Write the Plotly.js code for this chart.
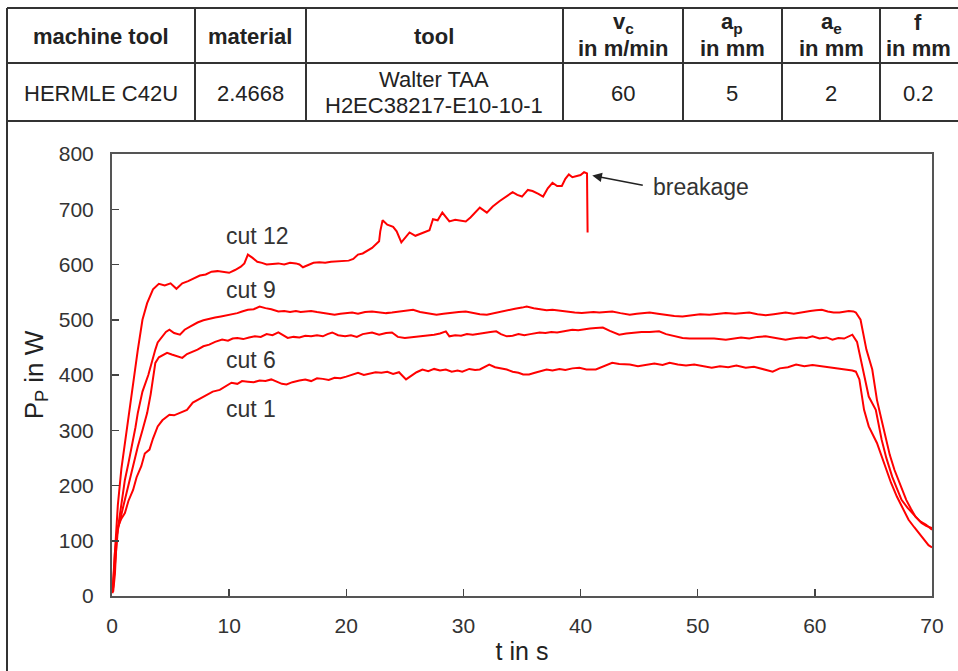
<!DOCTYPE html>
<html>
<head>
<meta charset="utf-8">
<script src="https://cdn.plot.ly/plotly-3.0.1.min.js"></script>
<style>html,body{margin:0;padding:0;background:#fff;}#chart{width:958px;height:671px;}</style>
</head>
<body>
<div id="chart"></div>
<script>
// ---- Table data ----
const tableHeaders = [
  ["machine tool"],
  ["material"],
  ["tool"],
  ["v<sub>c</sub>", "in m/min"],
  ["a<sub>p</sub>", "in mm"],
  ["a<sub>e</sub>", "in mm"],
  ["f", "in mm"]
];
const tableValues = [
  ["HERMLE C42U"],
  ["2.4668"],
  ["Walter TAA", "H2EC38217-E10-10-1"],
  ["60"],
  ["5"],
  ["2"],
  ["0.2"]
];

// ---- Series data (t in s, P_P in W) ----
const cut1_t = [0.05,0.1,0.25,0.5,0.8,1.1,1.4,1.8,2.1,2.5,2.8,3.2,3.5,3.9,4.3,4.9,5.3,5.8,6.4,6.9,7.3,7.8,8.2,8.6,9.2,9.7,10.2,10.7,11.1,11.6,12.1,12.6,13.1,13.6,14.1,14.5,14.9,15.4,16,16.5,17,17.5,18,18.5,19,19.5,20,20.5,21,21.5,22,22.5,23,23.5,24,24.5,25.1,25.6,26,26.5,27,27.5,28,28.5,29,29.5,29.9,30.5,31,31.4,31.8,32.2,32.7,33.2,33.7,34.2,34.7,35.1,35.6,36.1,36.6,37.1,37.6,38.2,38.7,39.3,39.9,40.5,41.3,41.9,42.7,43.3,44.2,44.9,45.6,46.3,47,47.6,48.3,49,49.7,50.4,51.2,51.9,52.6,53.3,54.1,54.8,55.6,56.4,57,57.7,58.4,59.1,59.8,60.5,61.2,61.9,62.6,63.2,63.5,63.8,64.2,64.6,65.3,65.7,66.1,66.5,67,67.5,68,68.5,68.9,69.3,69.7,70];
const cut1_p = [8,16,78,125,140,150,172,192,215,235,258,265,285,307,318,328,327,331,337,350,355,361,366,370,373,380,386,384,389,388,387,390,389,392,388,384,383,387,390,392,389,394,393,391,395,394,397,401,404,400,403,405,404,406,402,405,392,400,405,410,407,411,408,410,406,408,406,411,409,410,414,419,414,412,410,406,404,401,401,404,407,410,408,411,409,412,413,410,410,415,422,420,419,416,419,421,418,422,419,417,419,416,413,416,414,417,413,415,410,406,412,414,419,416,418,416,415,412,410,408,406,392,337,307,277,252,228,205,180,158,138,124,114,103,92,88];

const cut6_t = [0.05,0.25,0.5,0.95,1.5,1.9,2.2,2.6,3.0,3.3,3.5,3.7,4.0,4.3,4.7,5.1,5.5,6.0,6.4,6.9,7.3,7.8,8.3,8.8,9.4,9.9,10.3,10.7,11.2,11.7,12.2,12.7,13.2,13.7,14.2,14.6,15,15.5,16,16.5,17,17.5,18,18.4,18.8,19.3,19.9,20.4,20.9,21.4,22.2,22.8,23.4,23.9,24.4,25,25.5,26,26.5,27,27.5,28,28.5,28.8,29.3,29.8,30.3,30.8,31.3,31.8,32.3,32.8,33.2,33.7,34.2,34.7,35.2,35.7,36.1,36.5,37,37.5,38,38.5,39,39.3,39.8,40.3,40.8,41.3,41.9,42.5,43.3,43.9,44.5,45.2,45.9,46.7,47.3,48,48.7,49.3,50,50.7,51.4,52.4,53,53.7,54.4,55.1,55.8,56.5,57.1,57.5,58.1,58.8,59.3,59.8,60.4,61,61.5,62,62.5,62.9,63.2,63.6,64,64.6,65.2,65.7,66.1,66.6,67,67.4,67.9,68.3,68.7,69.1,69.5,70];
const cut6_p = [5,60,120,161,210,245,270,300,331,365,392,422,432,436,440,437,434,431,438,442,446,452,455,460,464,462,466,467,465,468,470,469,474,472,477,472,467,469,468,471,470,472,470,474,477,472,470,472,469,474,477,473,476,477,469,467,468,470,470,471,473,475,479,470,472,471,474,473,475,476,478,479,474,470,471,474,472,474,475,477,476,478,477,479,480,482,481,483,484,485,486,480,473,475,477,478,478,479,474,470,467,466,466,465,466,464,466,468,466,469,470,467,465,464,466,468,467,470,466,468,464,467,466,470,473,460,422,361,337,283,250,216,195,174,160,150,140,132,127,123];

const cut9_t = [0.1,0.25,0.4,0.7,1.1,1.4,1.7,2.0,2.2,2.6,3.1,3.4,3.7,3.9,4.3,4.6,4.9,5.3,5.8,6.2,6.7,7.3,7.8,8.3,8.8,9.3,9.8,10.3,10.7,11.1,11.6,12.1,12.6,13.1,13.6,14.2,14.7,15.2,15.7,16.1,16.5,17,17.5,18,18.5,19,19.5,20,20.5,21,21.6,22.2,22.8,23.4,23.9,24.5,25.1,25.7,26.3,27,27.7,28.3,28.9,29.6,30.2,30.8,31.4,32,32.6,33.2,33.8,34.4,35,35.4,36,36.6,37.1,37.6,38.2,38.9,39.5,40.1,40.5,41.1,41.6,42.1,42.7,43.4,44.2,44.8,45.4,45.9,46.6,47.2,48,48.7,49.4,50.2,51,51.7,52.4,53.2,54,54.4,55.1,55.8,56.5,57.1,57.5,58.2,58.9,59.6,60.1,60.6,61.1,61.6,62.1,62.5,62.9,63.3,63.5,63.9,64.4,64.9,65.3,65.7,66.1,66.4,66.8,67.3,67.8,68.2,68.6,69,69.5,70];
const cut9_p = [8,40,107,150,210,240,270,305,331,370,400,425,446,459,470,478,482,476,473,482,488,495,499,502,504,506,508,511,512,515,518,519,524,521,519,515,516,514,516,514,515,516,514,512,510,509,511,512,513,511,514,515,513,512,513,515,516,518,514,511,509,511,513,514,515,512,510,509,512,515,518,520,522,524,521,519,517,518,516,514,513,512,513,514,513,514,515,512,509,511,512,513,511,509,507,506,508,510,509,511,512,511,512,513,510,508,510,512,513,511,514,516,517,518,515,513,513,515,516,515,513,500,446,410,355,318,283,255,228,200,174,158,143,135,129,120];

const cut12_t = [0.05,0.2,0.5,0.8,1.0,1.3,1.6,1.9,2.2,2.6,3.0,3.5,4.0,4.5,5.0,5.5,6.0,6.5,7.0,7.5,8.0,8.5,9.0,9.5,10.0,10.5,11.0,11.3,11.6,12.0,12.4,12.8,13.2,13.7,14.2,14.7,15.2,15.7,16.0,16.3,16.7,17.2,17.7,18.2,18.7,19.2,19.7,20.2,20.6,21.0,21.4,21.8,22.2,22.8,22.9,23.1,23.5,24.0,24.3,24.7,25.0,25.4,25.9,26.3,26.8,27.1,27.4,27.8,28.2,28.5,28.8,29.3,29.8,30.2,30.6,31.0,31.4,32.0,32.5,33.1,33.6,34.2,34.6,35.0,35.5,35.9,36.4,36.8,37.2,37.6,38.0,38.4,38.7,39.0,39.3,39.6,40.0,40.3,40.55,40.6];
const cut12_p = [10,60,165,230,262,300,350,400,445,500,530,555,565,562,566,556,566,570,575,580,582,587,588,586,585,590,596,602,618,612,605,603,600,601,602,600,603,602,600,595,598,603,604,603,605,606,606,607,610,618,620,625,630,642,660,680,672,668,660,640,648,658,652,655,660,662,682,680,694,685,678,681,679,678,685,695,703,694,705,715,722,731,726,723,735,733,728,723,738,748,742,742,755,763,758,760,762,767,765,658];

// ---- Curve labels ----
const labelTexts = ["cut 12", "cut 9", "cut 6", "cut 1"];
const labelT = [9.6, 9.6, 9.6, 9.6];
const labelP = [651, 553, 428, 339];

// ---- Layout helpers (pixel -> paper) ----
const L = 112, R = 26, T = 154, B = 75, W = 958, H = 671;
const PW = W - L - R, PH = H - T - B;
const px = v => (v - L) / PW;
const py = v => (H - B - v) / PH;

const colEdges = [7, 195, 306, 563, 683, 782, 880, 1010];
const colCenters = [101, 250, 434, 623, 732, 831, 918];
const rowTop = 8, rowMid = 63, rowBot = 121;
const tcol = '#333';
const shapes = [];
function hline(y, x0, x1) { shapes.push({type:'line', xref:'paper', yref:'paper', x0:px(x0), x1:px(x1), y0:py(y), y1:py(y), line:{color:tcol, width:2}}); }
function vline(x, y0, y1) { shapes.push({type:'line', xref:'paper', yref:'paper', x0:px(x), x1:px(x), y0:py(y0), y1:py(y1), line:{color:tcol, width:2}}); }
hline(rowTop, 7, 960); hline(rowMid, 7, 960); hline(rowBot, 7, 960);
vline(7, rowTop, 671);
for (let i = 1; i < colEdges.length - 1; i++) vline(colEdges[i], rowTop, rowBot);

const annotations = [];
const tfont = {family:'Liberation Sans, Arial, sans-serif', size:22, color:'#222'};
function cellText(lines, xc, yc, bold) {
  const sp = 26;
  lines.forEach((s, k) => {
    const y = yc + (k - (lines.length - 1) / 2) * sp;
    annotations.push({xref:'paper', yref:'paper', x:px(xc), y:py(y), text: bold ? '<b>' + s + '</b>' : s,
      showarrow:false, xanchor:'center', yanchor:'middle', font:tfont});
  });
}
tableHeaders.forEach((c, i) => cellText(c, colCenters[i], 36, true));
tableValues.forEach((c, i) => cellText(c, colCenters[i], 93, false));

const lfont = {family:'Liberation Sans, Arial, sans-serif', size:23, color:'#333'};
labelTexts.forEach((s, i) => annotations.push({x:labelT[i], y:labelP[i], xref:'x', yref:'y', text:s, showarrow:false, xanchor:'left', yanchor:'middle', font:lfont}));

// breakage arrow + text
annotations.push({x:41.0, y:761, xref:'x', yref:'y', text:'', showarrow:true, arrowhead:2, arrowsize:1.2, arrowwidth:1.6, arrowcolor:'#222', ax:52, ay:10});
annotations.push({x:46.0, y:741, xref:'x', yref:'y', text:'breakage', showarrow:false, xanchor:'left', yanchor:'middle', font:lfont});

const red = {color:'#ff0000', width:2};
const traces = [
  {x:cut1_t, y:cut1_p, name:'cut 1'},
  {x:cut6_t, y:cut6_p, name:'cut 6'},
  {x:cut9_t, y:cut9_p, name:'cut 9'},
  {x:cut12_t, y:cut12_p, name:'cut 12'}
].map(tr => Object.assign(tr, {type:'scatter', mode:'lines', line:red, hoverinfo:'skip'}));

const axcommon = {showline:true, linecolor:'#555', linewidth:2, mirror:true, showgrid:false, zeroline:false,
  ticks:'inside', ticklen:7, tickwidth:1.5, tickcolor:'#444',
  tickfont:{family:'Liberation Sans, Arial, sans-serif', size:21, color:'#333'}};

const layout = {
  width:W, height:H, margin:{l:L, r:R, t:T, b:B, pad:0},
  paper_bgcolor:'#fff', plot_bgcolor:'#fff', showlegend:false,
  xaxis:Object.assign({}, axcommon, {range:[0,70], dtick:10, tick0:0, ticklabelstandoff:10,
    title:{text:'t in s', font:{family:'Liberation Sans, Arial, sans-serif', size:25, color:'#222'}, standoff:6}}),
  yaxis:Object.assign({}, axcommon, {range:[0,800], dtick:100, tick0:0, ticklabelstandoff:12,
    title:{text:'P<sub>P</sub> in W', font:{family:'Liberation Sans, Arial, sans-serif', size:26, color:'#222'}, standoff:8}}),
  shapes:shapes, annotations:annotations
};
Plotly.newPlot('chart', traces, layout, {displayModeBar:false, staticPlot:true});
</script>
</body>
</html>
